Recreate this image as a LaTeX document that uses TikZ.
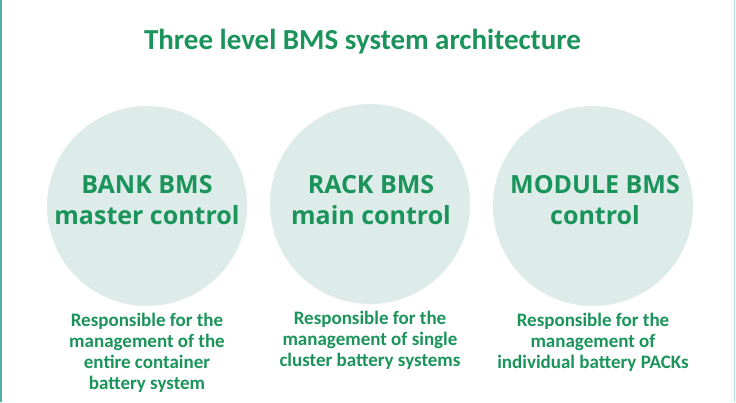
\documentclass[tikz,border=0pt]{standalone}
\usepackage{fontspec}
\setmainfont{Carlito}
\newfontfamily\levelfont{Open Sans}
\usepackage{xcolor}
\usepackage{tikz}
\usetikzlibrary{positioning}

\definecolor{bmsgreen}{RGB}{26,148,90}
\definecolor{bmscircle}{RGB}{221,236,233}
\definecolor{edgeteal}{RGB}{77,176,164}
\definecolor{edgecyan}{RGB}{180,226,226}

\tikzset{
  level/.style={circle, fill=bmscircle, minimum size=200pt, inner sep=0pt},
  levelname/.style={align=center, inner sep=0pt, font=\levelfont\fontsize{25}{31}\selectfont\bfseries},
  duty/.style={align=center, inner sep=0pt, font=\fontsize{19}{21}\selectfont\bfseries}
}

\begin{document}
\begin{tikzpicture}[x=1pt, y=-1pt, text=bmsgreen, node distance=7pt]
    \useasboundingbox (0,0) rectangle (736,402);
    \fill[white] (0,0) rectangle (736,402);
    \draw[edgeteal, line width=1.5pt] (0.75,0) -- (0.75,402);
    \draw[edgecyan, line width=1pt] (734.5,0) -- (734.5,402);

    \node[anchor=base, inner sep=0pt, font=\fontsize{29}{34}\selectfont\bfseries] (title) at (362.5,49) {Three level BMS system architecture};

    % the three levels
    \node[level] (bank) at (147,206) {};
    \node[level] (rack) at (370,204) {};
    \node[level] (module) at (593,206) {};

    \node[levelname] (bankname) at (147,200) {BANK BMS\\master control};
    \node[levelname] (rackname) at (371,200) {RACK BMS\\main control};
    \node[levelname] (modulename) at (595,200) {MODULE BMS\\control};

    % what each level manages
    \node[duty, below=of bank] (bankduty) {Responsible for the\\management of the\\entire container\\battery system};
    \node[duty, below=of rack] (rackduty) {Responsible for the\\management of single\\cluster battery systems};
    \node[duty, below=of module] (moduleduty) {Responsible for the\\management of\\individual battery PACKs};
\end{tikzpicture}
\end{document}
